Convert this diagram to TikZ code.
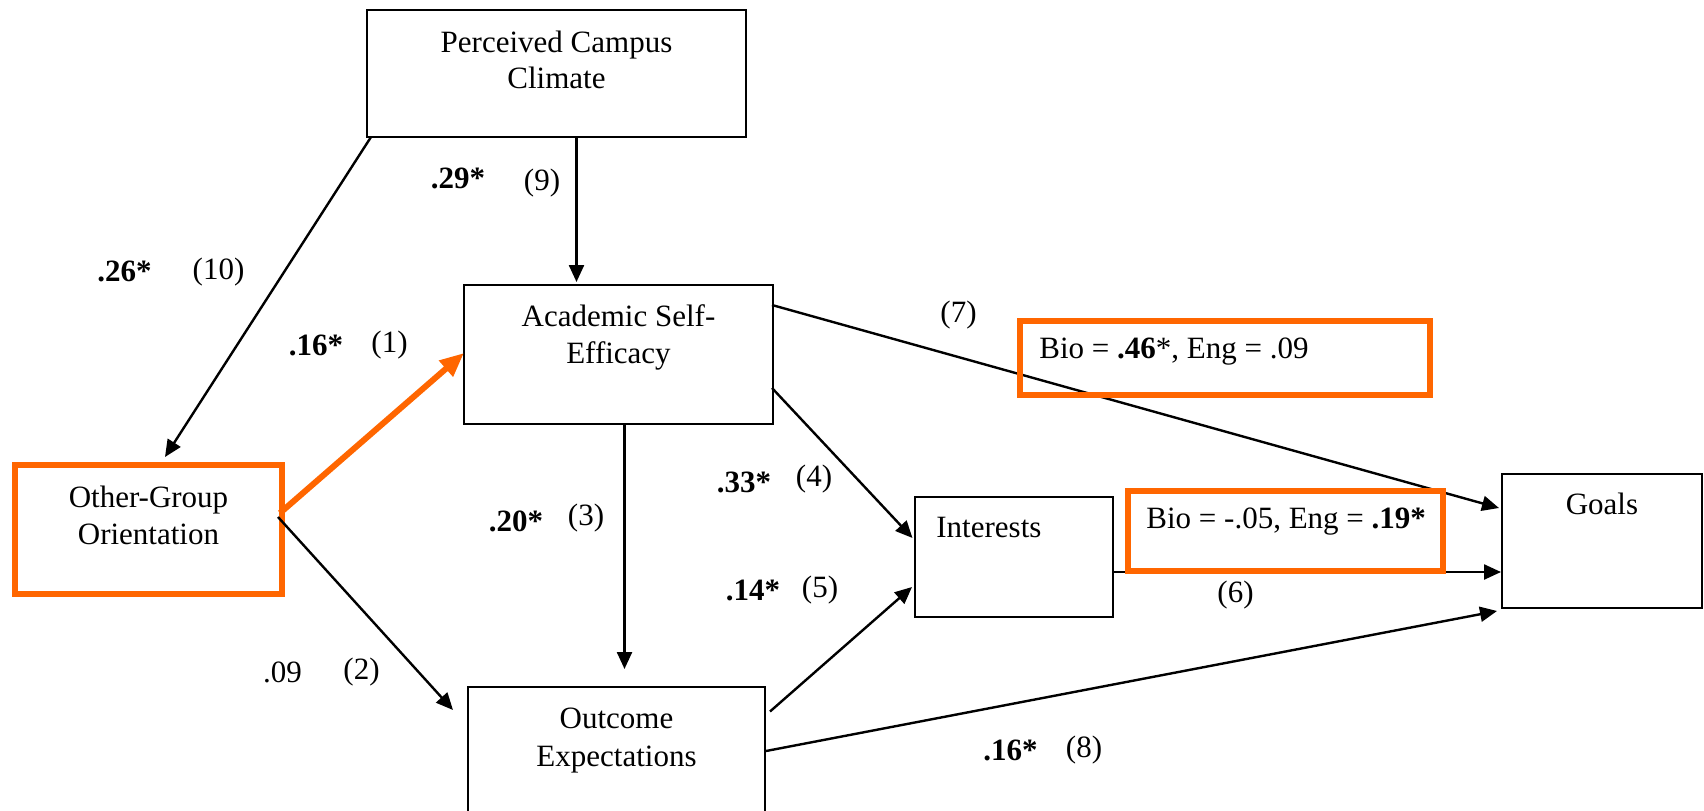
\documentclass[tikz,border=0pt]{standalone}
\usepackage{fontspec}
\setmainfont{Liberation Serif}
\usetikzlibrary{arrows.meta,calc}
\definecolor{og}{HTML}{FF6600}
\begin{document}
\begin{tikzpicture}[x=0.5pt,y=-0.5pt,
  box/.style={draw=black,line width=1.1pt,inner sep=0pt,outer sep=0pt},
  obox/.style={draw=og,line width=3.2pt,inner sep=0pt,outer sep=0pt},
  txt/.style={font=\fontsize{15.5}{18}\selectfont,inner sep=0pt,anchor=base},
  lab/.style={font=\fontsize{15.5}{18}\selectfont,inner sep=0pt},
  labb/.style={font=\fontsize{15.5}{18}\selectfont\bfseries,inner sep=0pt},
  arr/.style={draw=black,line width=1.2pt,-{Triangle[length=8.5pt,width=7.5pt]}},
  oarr/.style={draw=og,line width=3pt,-{Triangle[length=12pt,width=10pt]}}]
\useasboundingbox (0,0) rectangle (1704,810);
\clip (0,0) rectangle (1704,810);
% boxes
\node[box,minimum width=189.5pt,minimum height=63.5pt] (pcc) at (556.5,73.5) {};
\node[box,minimum width=154.5pt,minimum height=69.5pt] (ase) at (618.5,354.5) {};
\node[box,minimum width=148.5pt,minimum height=71.5pt] (oe) at (616.5,758.5) {};
\node[box,minimum width=99pt,minimum height=60pt] (int) at (1014,557) {};
\node[box,minimum width=100pt,minimum height=67pt] (goals) at (1602,541) {};
\node[obox,minimum width=133.5pt,minimum height=64.5pt] (ogo) at (148.5,529.5) {};
% connectors
\draw[arr] ($(pcc.south west)+(4,0)$) -- ($(ogo.north)+(16.5,-8)$);
\draw[arr] ($(pcc.south)+(20,0)$) -- ($(ase.north)+(-42,-3)$);
\draw[arr] ($(ogo.east)+(-4,-12.5)$) -- ($(oe.west)+(-15,-48.5)$);
\draw[arr] ($(ase.south)+(6,0)$) -- ($(oe.north)+(8,-18)$);
\draw[arr] ($(ase.east)+(-1,33.5)$) -- ($(int.west)+(-2.5,-19)$);
\draw[arr] ($(oe.east)+(5,-47)$) -- ($(int.west)+(-3,30)$);
\draw[arr] ($(ase.north east)+(-1,20)$) -- ($(goals.west)+(-3,-33)$);
\draw[arr] ($(int.east)+(0,15)$) -- ($(goals.west)+(-1,31)$);
\draw[arr] ($(oe.east)+(1,-7.5)$) -- ($(goals.south west)+(-5,3)$);
\draw[oarr] ($(ogo.east)+(-2,-16.5)$) -- ($(ase.west)+(0,-1.5)$);
% orange label boxes
\node[obox,minimum width=205pt,minimum height=37pt] (b7) at (1225,358) {};
\node[obox,minimum width=157.5pt,minimum height=40pt] (b6) at (1285.5,531) {};
% box texts
\node[txt] (pcct1) at (556.5,52) {Perceived Campus};
\node[txt] (pcct2) at (556.5,88) {Climate};
\node[txt] (aset1) at (618.5,326) {Academic Self-};
\node[txt] (aset2) at (618.5,363) {Efficacy};
\node[txt] (ogot1) at (148.5,507) {Other-Group};
\node[txt] (ogot2) at (148.5,544) {Orientation};
\node[txt] (oet1) at (616.5,728) {Outcome};
\node[txt] (oet2) at (616.5,766) {Expectations};
\node[txt,anchor=base west] (intt) at (936,537) {Interests};
\node[txt] (goalst) at (1602,514) {Goals};
\node[txt,anchor=base west] (b7t) at (1039,358) {Bio = \textbf{.46}*, Eng = .09};
\node[txt,anchor=base west] (b6t) at (1146,528) {Bio = -.05, Eng = \textbf{.19*}};
% path labels
\node[labb] (l10a) at (124.5,271) {.26*};
\node[lab] (l10b) at (218.5,272) {(10)};
\node[labb] (l9a) at (458,178) {.29*};
\node[lab] (l9b) at (542,183) {(9)};
\node[labb] (l1a) at (316,345) {.16*};
\node[lab] (l1b) at (389.5,345) {(1)};
\node[lab] (l2a) at (282.5,672) {.09};
\node[lab] (l2b) at (361.5,672) {(2)};
\node[labb] (l3a) at (516,521) {.20*};
\node[lab] (l3b) at (586,518) {(3)};
\node[labb] (l4a) at (744,482) {.33*};
\node[lab] (l4b) at (814,479) {(4)};
\node[labb] (l5a) at (753,590) {.14*};
\node[lab] (l5b) at (820,590) {(5)};
\node[lab] (l7) at (958.5,315) {(7)};
\node[lab] (l6) at (1235.5,595) {(6)};
\node[labb] (l8a) at (1010.5,750) {.16*};
\node[lab] (l8b) at (1084,750) {(8)};
\end{tikzpicture}
\end{document}
